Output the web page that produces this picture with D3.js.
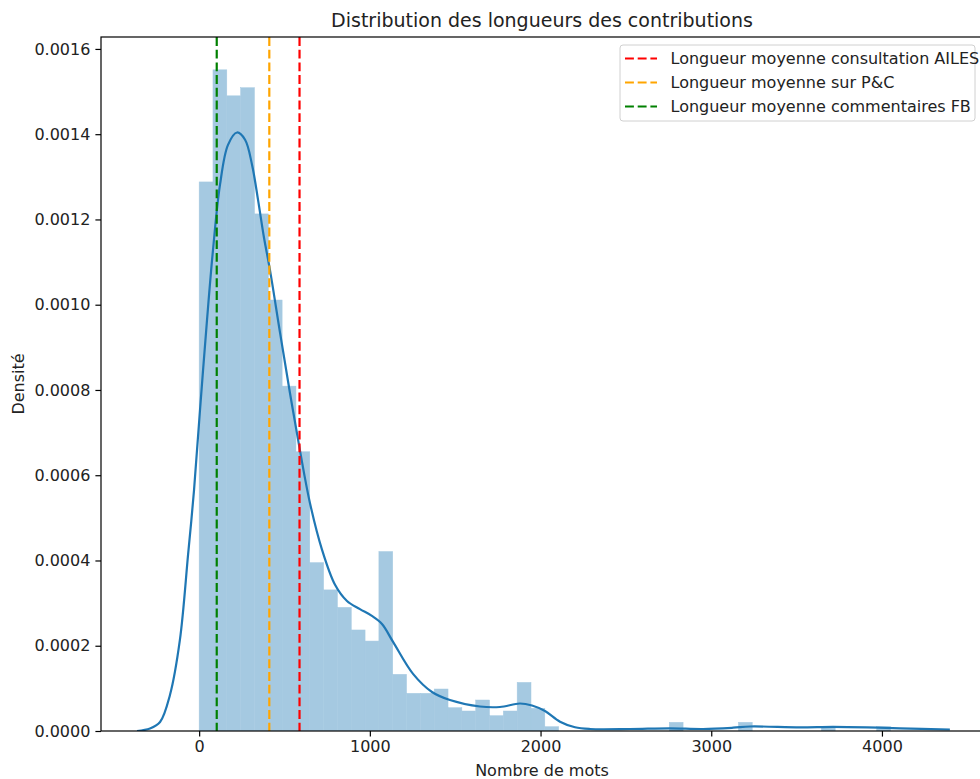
<!DOCTYPE html>
<html>
<head>
<meta charset="utf-8">
<script src="https://cdn.jsdelivr.net/npm/d3@7"></script>
<style>
  body { margin: 0; background: #fff; }
  svg { display: block; font-family: "DejaVu Sans", sans-serif; }
</style>
</head>
<body>
<div id="chart"></div>
<script>
// histogram: 50 bins of 81 words starting at 0, density per bin
const binStart = 0;
const binWidth = 81;
const binDensity = [
  0.001288, 0.001551, 0.001490, 0.001509, 0.001213, 0.001011, 0.000809, 0.000655,
  0.000395, 0.000331, 0.000290, 0.000237, 0.000211, 0.000421, 0.000133, 0.0000884,
  0.0000884, 0.0000985, 0.0000547, 0.0000469, 0.0000727, 0.0000359, 0.0000469, 0.000114,
  0.0000532, 0.0000101, 0, 0, 0, 0, 0, 0,
  0, 0, 0.0000204, 0, 0, 0, 0, 0.0000204,
  0, 0, 0, 0, 0, 0.0000101, 0, 0,
  0, 0.0000101
];

// kde curve
const kdeWords = [
  -364, -288, -229, -171, -113, -65, -30, 5, 46, 81, 122, 169, 222, 269, 310, 345,
  380, 415, 474, 532, 591, 649, 720, 796, 866, 942, 1012, 1071, 1136, 1253, 1364, 1469,
  1645, 1762, 1879, 1950, 2026, 2114, 2202, 2290, 2524, 2758, 2952, 3128, 3227, 3520,
  3713, 3912, 4106, 4398
];
const kdeDensity = [
  0, 0.0000059, 0.0000211, 0.0000845, 0.000213, 0.000413, 0.000565, 0.000753,
  0.000964, 0.001128, 0.001281, 0.001375, 0.001404, 0.001387, 0.001328, 0.001246,
  0.001157, 0.001081, 0.000934, 0.000793, 0.000657, 0.000535, 0.000425, 0.000343,
  0.000305, 0.000286, 0.000270, 0.000251, 0.000209, 0.000134, 0.0000915, 0.0000727,
  0.0000575, 0.0000563, 0.0000645, 0.0000598, 0.0000469, 0.0000218, 0.0000087, 0.0000047,
  0.0000047, 0.0000063, 0.0000047, 0.0000077, 0.0000106, 0.0000087, 0.0000099, 0.0000087,
  0.0000063, 0.0000035
];

const meanLabels = [
  'Longueur moyenne consultation AILES',
  'Longueur moyenne sur P&C',
  'Longueur moyenne commentaires FB'
];
const meanValues = [588, 411, 103];
const meanColors = ['#ff0000', '#ffa500', '#008000'];

const xTicks = [0, 1000, 2000, 3000, 4000];
const yTicks = [0, 0.0002, 0.0004, 0.0006, 0.0008, 0.0010, 0.0012, 0.0014, 0.0016];

const width = 980;
const height = 779;
const plot = { left: 101, right: 983, top: 37, bottom: 731 };
const dash = '8.9,3.8';
const barColor = 'rgb(165, 201, 225)';

const svg = d3.select('#chart')
  .append('svg')
  .attr('width', width)
  .attr('height', height);

const fx = d3.scaleLinear()
  .domain([-575, 4592])
  .range([plot.left, plot.right]);

const fy = d3.scaleLinear()
  .domain([0, 0.001628])
  .range([plot.bottom, plot.top]);

svg.append('clipPath')
  .attr('id', 'plot-clip')
  .append('rect')
  .attr('x', plot.left)
  .attr('y', plot.top)
  .attr('width', plot.right - plot.left)
  .attr('height', plot.bottom - plot.top);

const graph = svg.append('g')
  .attr('clip-path', 'url(#plot-clip)');

const bins = binDensity.map((d, i) => ({
  x0: binStart + i * binWidth,
  x1: binStart + (i + 1) * binWidth,
  density: d,
}));

graph.selectAll('rect.bar')
  .data(bins.filter(d => d.density > 0))
  .join('rect')
  .attr('class', 'bar')
  .attr('x', d => fx(d.x0))
  .attr('width', d => fx(d.x1) - fx(d.x0))
  .attr('y', d => fy(d.density))
  .attr('height', d => fy(0) - fy(d.density))
  .attr('fill', barColor)
  .attr('stroke', barColor)
  .attr('stroke-width', 0.5);

const kde = d3.line()
  .x((d, i) => fx(kdeWords[i]))
  .y(d => fy(d))
  .curve(d3.curveCatmullRom.alpha(0.5));

graph.append('path')
  .datum(kdeDensity)
  .attr('d', kde)
  .attr('fill', 'none')
  .attr('stroke', '#1f77b4')
  .attr('stroke-width', 2.2);

graph.selectAll('line.mean')
  .data(meanValues)
  .join('line')
  .attr('class', 'mean')
  .attr('x1', d => fx(d))
  .attr('x2', d => fx(d))
  .attr('y1', plot.top)
  .attr('y2', plot.bottom)
  .attr('stroke', (d, i) => meanColors[i])
  .attr('stroke-width', 2.2)
  .attr('stroke-dasharray', dash);

// axes
const xAxis = svg.append('g')
  .attr('transform', `translate(0, ${plot.bottom})`)
  .call(d3.axisBottom(fx).tickValues(xTicks).tickSize(5.6).tickPadding(4).tickFormat(d3.format('d')));

const yAxis = svg.append('g')
  .attr('transform', `translate(${plot.left}, 0)`)
  .call(d3.axisLeft(fy).tickValues(yTicks).tickSize(5.6).tickPadding(5).tickFormat(d3.format('.4f')));

[xAxis, yAxis].forEach(ax => {
  ax.select('.domain').remove();
  ax.selectAll('.tick line').attr('stroke', '#000').attr('stroke-width', 1.2);
  ax.selectAll('.tick text')
    .attr('fill', '#222')
    .style('font-size', '16px')
    .style('font-family', '"DejaVu Sans", sans-serif');
});

svg.append('rect')
  .attr('x', plot.left)
  .attr('y', plot.top)
  .attr('width', plot.right - plot.left)
  .attr('height', plot.bottom - plot.top)
  .attr('fill', 'none')
  .attr('stroke', '#000')
  .attr('stroke-width', 1.2);

// titles
svg.append('text')
  .attr('x', (plot.left + plot.right) / 2)
  .attr('y', 27)
  .attr('text-anchor', 'middle')
  .attr('fill', '#222')
  .style('font-size', '19px')
  .text('Distribution des longueurs des contributions');

svg.append('text')
  .attr('x', (plot.left + plot.right) / 2)
  .attr('y', 776)
  .attr('text-anchor', 'middle')
  .attr('fill', '#222')
  .style('font-size', '16px')
  .text('Nombre de mots');

svg.append('text')
  .attr('transform', `translate(24, ${(plot.top + plot.bottom) / 2}) rotate(-90)`)
  .attr('text-anchor', 'middle')
  .attr('fill', '#222')
  .style('font-size', '16px')
  .text('Densité');

// legend
const legend = svg.append('g')
  .attr('transform', 'translate(620, 45)');

legend.append('rect')
  .attr('width', 355)
  .attr('height', 76)
  .attr('rx', 3)
  .attr('fill', '#fff')
  .attr('fill-opacity', 0.8)
  .attr('stroke', '#d0d0d0')
  .attr('stroke-width', 1);

const rows = legend.selectAll('g.row')
  .data(meanLabels)
  .join('g')
  .attr('class', 'row')
  .attr('transform', (d, i) => `translate(0, ${13.5 + i * 24})`);

rows.append('line')
  .attr('x1', 5)
  .attr('x2', 37)
  .attr('stroke', (d, i) => meanColors[i])
  .attr('stroke-width', 2.2)
  .attr('stroke-dasharray', dash);

rows.append('text')
  .attr('x', 50.5)
  .attr('dy', '0.36em')
  .attr('fill', '#222')
  .style('font-size', '16px')
  .text(d => d);
</script>
</body>
</html>
